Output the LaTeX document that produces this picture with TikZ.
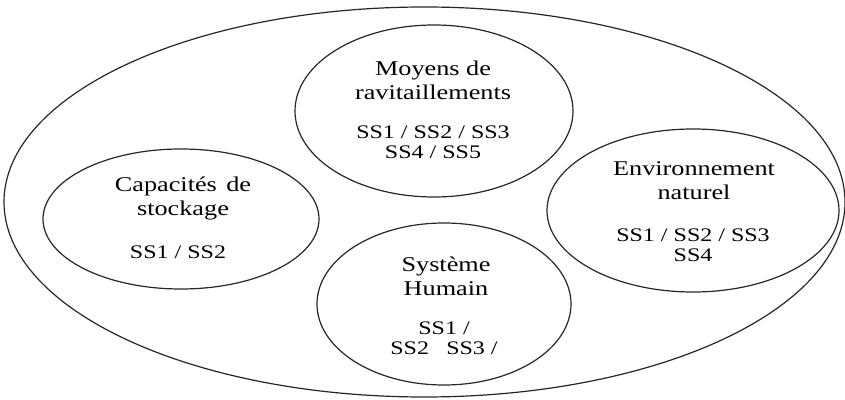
\documentclass[tikz,border=0pt]{standalone}
\usepackage{fontspec}
\setmainfont{Liberation Serif}[FakeStretch=1.25]
\usetikzlibrary{shapes.geometric}

\tikzset{
  zone/.style={draw=black!85, line width=1.2pt, ellipse, inner sep=0pt},
  title/.style={font=\fontsize{21}{24}\selectfont, align=center, inner sep=0pt},
  codes/.style={font=\fontsize{19.2}{20.5}\selectfont, align=center, inner sep=0pt}
}

\begin{document}
\begin{tikzpicture}[x=1pt, y=1pt]
  \useasboundingbox (0,0) rectangle (845,399);

  % enclosing system
  \node[zone, minimum width=841pt, minimum height=390pt] (outer) at (424.5,197) {};

  % sub-systems
  \node[zone, minimum width=278pt, minimum height=172pt] (moyens) at (434,288) {};
  \node[zone, minimum width=276pt, minimum height=140pt] (stock) at (181,180) {};
  \node[zone, minimum width=292pt, minimum height=163pt] (env) at (693,188.5) {};
  \node[zone, minimum width=254pt, minimum height=162pt] (humain) at (444,95) {};

  % labels
  \node[title] (moyensT) at (433,319) {Moyens de\\ravitaillements};
  \node[codes] (moyensS) at (433,257) {SS1 / SS2 / SS3\\SS4 / SS5};

  \node[title] (stockT) at (183,200.5) {Capacités\hspace{0.45em}de\\stockage};
  \node[codes] (stockS) at (178,147) {SS1 / SS2};

  \node[title] (envT) at (694,218) {Environnement\\naturel};
  \node[codes] (envS) at (693,154) {SS1 / SS2 / SS3\\SS4};

  \node[title] (humainT) at (446,122.5) {Système\\Humain};
  \node[codes] (humainS) at (444,61) {SS1 /\\SS2\hspace{0.9em}SS3 /};
\end{tikzpicture}
\end{document}
